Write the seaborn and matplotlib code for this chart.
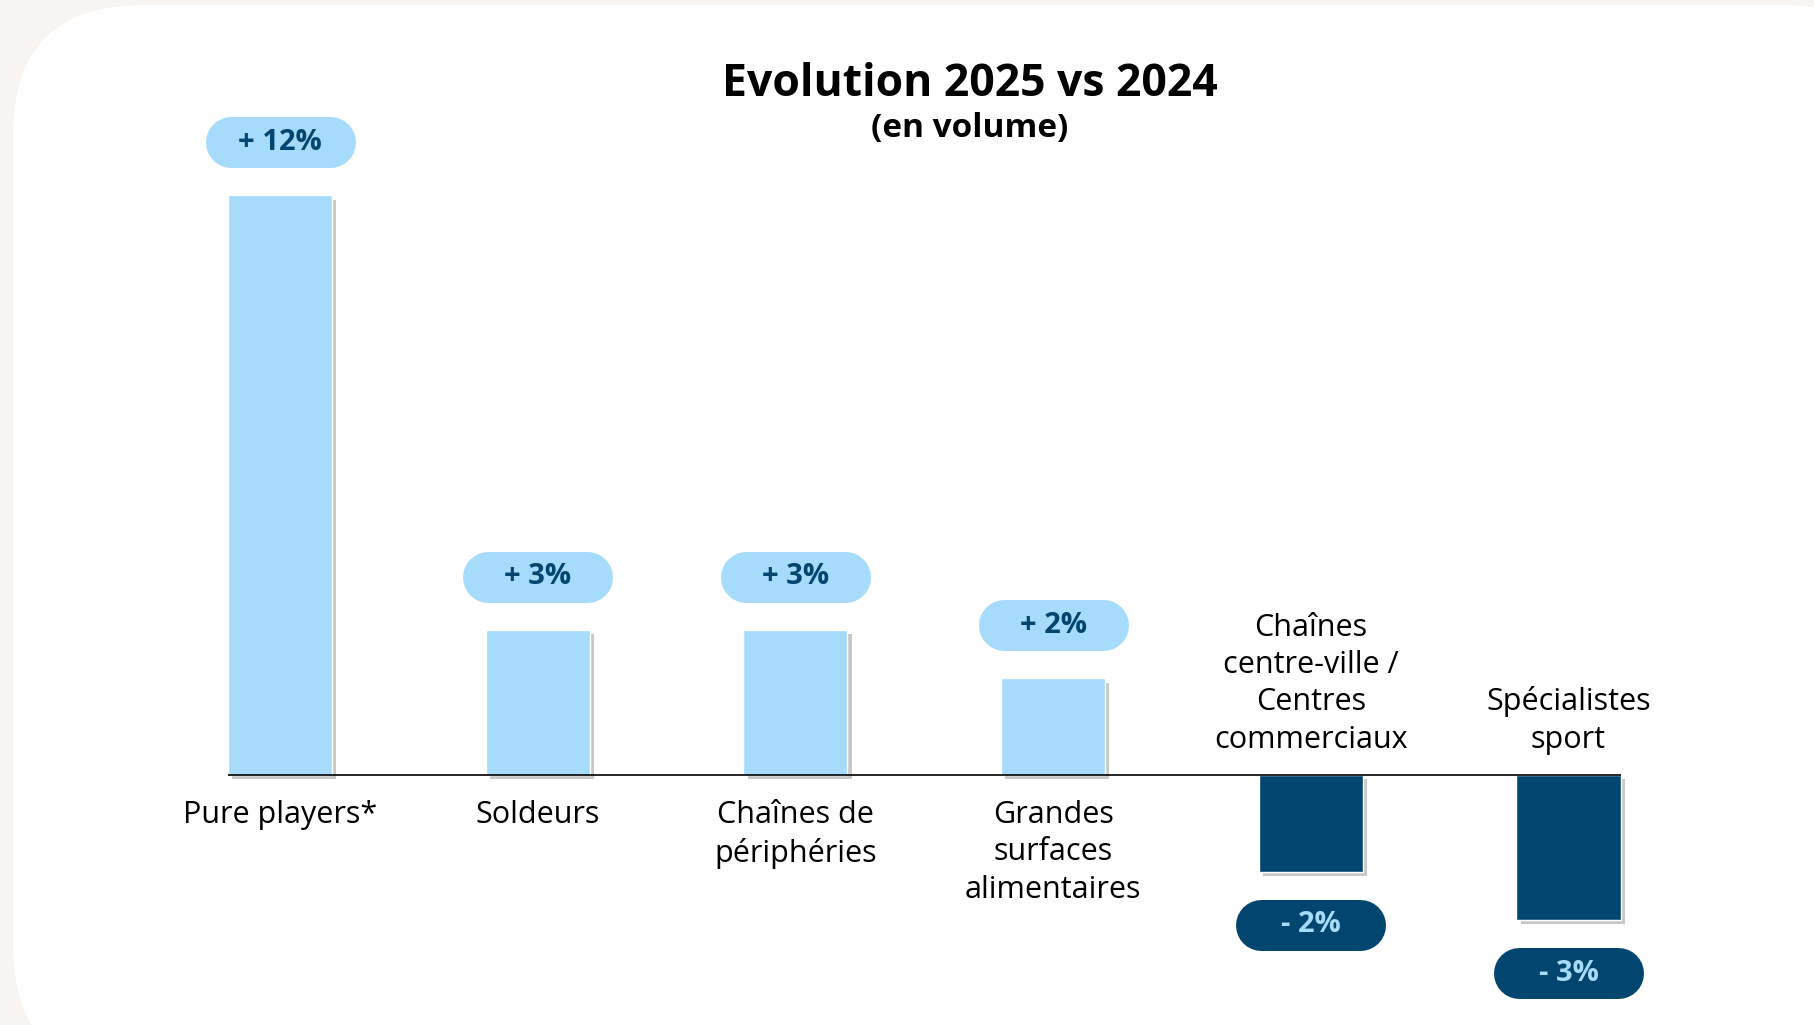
import seaborn as sns
import matplotlib.pyplot as plt
import matplotlib.patheffects as pe
from matplotlib.patches import FancyBboxPatch

# data
categories = ["Pure players*", "Soldeurs", "Chaînes de\npériphéries",
              "Grandes\nsurfaces\nalimentaires",
              "Chaînes\ncentre-ville /\nCentres\ncommerciaux",
              "Spécialistes\nsport"]
values = [12, 3, 3, 2, -2, -3]
pill_labels = ["+ 12%", "+ 3%", "+ 3%", "+ 2%", "- 2%", "- 3%"]

light = "#a6dbfc"
navy = "#02456f"
colors = [light if v > 0 else navy for v in values]

sns.set_style("white")
plt.rcParams["font.family"] = ["Open Sans", "DejaVu Sans"]
plt.rcParams["text.color"] = "black"

fig = plt.figure(figsize=(18.15, 10.25), dpi=100, facecolor="#f8f4f2")
ax = fig.add_axes([0, 0, 1, 1])
ax.patch.set_visible(False)

# white card behind the chart (sizes in inches)
card = FancyBboxPatch((0.13, -0.5), 19.0, 10.7,
                      boxstyle="round,pad=0,rounding_size=1.3",
                      transform=fig.dpi_scale_trans, facecolor="white",
                      edgecolor="none", zorder=-5)
fig.patches.append(card)

bw = 0.404
sns.barplot(x=categories, y=values, hue=categories, palette=colors,
            width=bw, legend=False, saturation=1, ax=ax)
for bar in ax.patches:
    bar.set_path_effects([pe.SimplePatchShadow(offset=(3, -3), shadow_rgbFace="#777777", alpha=0.4),
                          pe.Normal()])

# pixel-based limits so the layout matches
px_x = 257.7
px_y = 48.3
ax.set_xlim(-280 / px_x, (1815 - 280) / px_x)
ax.set_ylim(-(1025 - 775) / px_y, 775 / px_y)
ax.set_axis_off()

ax.hlines(0, -bw / 2, len(values) - 1 + bw / 2, color="black", lw=1.2, zorder=3)

# pills drawn as thick lines with round caps (150 x 51 px)
pill_h = 51 * 72 / 100          # line width in points
half = (150 - 51) / 2 / px_x    # half straight length in data units
for i, (v, lab, cat) in enumerate(zip(values, pill_labels, categories)):
    cy = v + 1.1 if v > 0 else v - 1.1
    ax.plot([i - half, i + half], [cy, cy], lw=pill_h, solid_capstyle="round",
            color=light if v > 0 else navy, zorder=4)
    ax.text(i, cy, lab, ha="center", va="center", fontsize=21, fontweight="bold",
            color=navy if v > 0 else light, zorder=5)
    if v > 0:
        ax.text(i, -0.52, cat, ha="center", va="top", fontsize=22, linespacing=1.32)
    else:
        ax.text(i, 0.42, cat, ha="center", va="bottom", fontsize=22, linespacing=1.32)

fig.text(970 / 1815, 1 - 84 / 1025, "Evolution 2025 vs 2024", ha="center", va="center",
         fontsize=32, fontweight="bold", color="black")
fig.text(970 / 1815, 1 - 128 / 1025, "(en volume)", ha="center", va="center",
         fontsize=24, fontweight="bold", color="black")

fig.savefig("out.png", dpi=100, facecolor=fig.get_facecolor())
